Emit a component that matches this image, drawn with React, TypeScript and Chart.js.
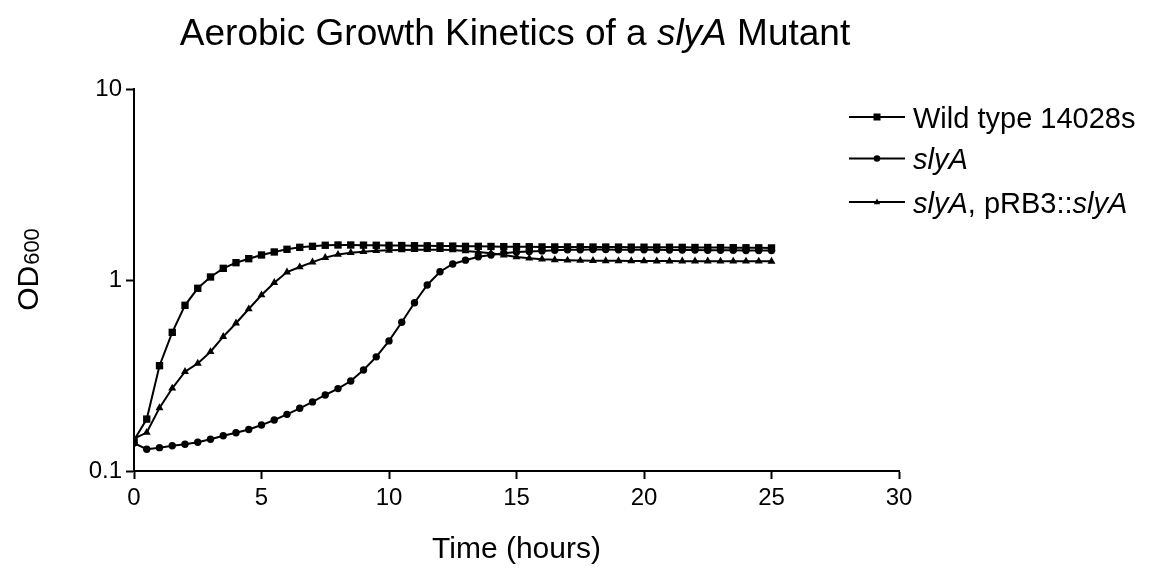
import React, { useEffect, useRef } from "react";
import { Chart, registerables } from "chart.js";

Chart.register(...registerables);

const FONT = "'Liberation Sans', Arial, Helvetica, sans-serif";

const timeHours = [
  0, 0.5, 1, 1.5, 2, 2.5, 3, 3.5, 4, 4.5, 5, 5.5, 6, 6.5, 7, 7.5, 8, 8.5, 9, 9.5,
  10, 10.5, 11, 11.5, 12, 12.5, 13, 13.5, 14, 14.5, 15, 15.5, 16, 16.5, 17, 17.5,
  18, 18.5, 19, 19.5, 20, 20.5, 21, 21.5, 22, 22.5, 23, 23.5, 24, 24.5, 25,
];

const wildType = [
  0.145, 0.187, 0.356, 0.532, 0.737, 0.905, 1.037, 1.151, 1.232, 1.293, 1.352,
  1.402, 1.448, 1.483, 1.501, 1.52, 1.525, 1.525, 1.522, 1.52, 1.518, 1.515,
  1.512, 1.51, 1.508, 1.505, 1.5, 1.5, 1.498, 1.495, 1.495, 1.493, 1.49, 1.49,
  1.49, 1.49, 1.488, 1.488, 1.487, 1.486, 1.485, 1.485, 1.484, 1.482, 1.48,
  1.48, 1.478, 1.476, 1.475, 1.474, 1.472,
];

const slyAMutant = [
  0.14, 0.13, 0.1325, 0.1357, 0.138, 0.1413, 0.1466, 0.153, 0.1587, 0.165, 0.174,
  0.185, 0.198, 0.213, 0.23, 0.25, 0.27, 0.296, 0.338, 0.396, 0.48, 0.601, 0.76,
  0.942, 1.105, 1.213, 1.27, 1.324, 1.352, 1.38, 1.4, 1.41, 1.42, 1.43, 1.44,
  1.44, 1.445, 1.445, 1.44, 1.44, 1.44, 1.438, 1.436, 1.435, 1.434, 1.432, 1.43,
  1.43, 1.428, 1.426, 1.425,
];

const complemented = [
  0.148, 0.159, 0.214, 0.271, 0.331, 0.366, 0.421, 0.505, 0.594, 0.705, 0.834,
  0.968, 1.1, 1.17, 1.24, 1.31, 1.36, 1.39, 1.406, 1.423, 1.43, 1.436, 1.44, 1.44,
  1.44, 1.435, 1.42, 1.4, 1.38, 1.35, 1.32, 1.3, 1.285, 1.275, 1.268, 1.265,
  1.262, 1.26, 1.26, 1.258, 1.258, 1.256, 1.256, 1.255, 1.255, 1.255, 1.254,
  1.254, 1.253, 1.253, 1.252,
];

const yTicks = [0.1, 1, 10];

type Seg = { t: string; i: boolean };
const titleSegs: Seg[] = [
  { t: "Aerobic Growth Kinetics of a ", i: false },
  { t: "slyA", i: true },
  { t: " Mutant", i: false },
];
const legendRows: { segs: Seg[]; style: string }[] = [
  { segs: [{ t: "Wild type 14028s", i: false }], style: "rect" },
  { segs: [{ t: "slyA", i: true }], style: "circle" },
  {
    segs: [
      { t: "slyA", i: true },
      { t: ", pRB3::", i: false },
      { t: "slyA", i: true },
    ],
    style: "triangle",
  },
];

function drawMarker(ctx: CanvasRenderingContext2D, style: string, x: number, y: number, s: number) {
  ctx.beginPath();
  if (style === "rect") {
    ctx.rect(x - s, y - s, 2 * s, 2 * s);
  } else if (style === "circle") {
    ctx.arc(x, y, s, 0, Math.PI * 2);
  } else {
    ctx.moveTo(x, y - s * 1.1);
    ctx.lineTo(x + s, y + s * 0.7);
    ctx.lineTo(x - s, y + s * 0.7);
    ctx.closePath();
  }
  ctx.fill();
}

function segsWidth(ctx: CanvasRenderingContext2D, segs: Seg[], size: number) {
  let w = 0;
  for (const s of segs) {
    ctx.font = `${s.i ? "italic " : ""}${size}px ${FONT}`;
    w += ctx.measureText(s.t).width;
  }
  return w;
}

function drawSegs(ctx: CanvasRenderingContext2D, segs: Seg[], size: number, x: number, y: number) {
  let cx = x;
  for (const s of segs) {
    ctx.font = `${s.i ? "italic " : ""}${size}px ${FONT}`;
    ctx.fillText(s.t, cx, y);
    cx += ctx.measureText(s.t).width;
  }
}

const textPlugin = {
  id: "textPlugin",
  afterDraw(chart: any) {
    const ctx: CanvasRenderingContext2D = chart.ctx;
    const area = chart.chartArea;
    ctx.save();
    ctx.fillStyle = "#000";
    ctx.strokeStyle = "#000";
    ctx.textAlign = "left";
    ctx.textBaseline = "alphabetic";

    // Title
    const tSize = 37;
    const tw = segsWidth(ctx, titleSegs, tSize);
    drawSegs(ctx, titleSegs, tSize, 515 - tw / 2, 45);

    // X axis title
    ctx.font = `30px ${FONT}`;
    ctx.textAlign = "center";
    ctx.fillText("Time (hours)", (area.left + area.right) / 2, 558);

    // Y axis title OD600
    ctx.save();
    ctx.translate(38, 270);
    ctx.rotate(-Math.PI / 2);
    ctx.textAlign = "left";
    ctx.font = `30px ${FONT}`;
    const odW = ctx.measureText("OD").width;
    ctx.font = `22px ${FONT}`;
    const subW = ctx.measureText("600").width;
    const start = -(odW + subW) / 2;
    ctx.font = `30px ${FONT}`;
    ctx.fillText("OD", start, 0);
    ctx.font = `22px ${FONT}`;
    ctx.fillText("600", start + odW + 1, 1);
    ctx.restore();

    // Legend
    const rowsY = [117, 158.5, 202];
    ctx.textAlign = "left";
    legendRows.forEach((row, k) => {
      const y = rowsY[k];
      ctx.lineWidth = 2;
      ctx.beginPath();
      ctx.moveTo(849, y);
      ctx.lineTo(905, y);
      ctx.stroke();
      drawMarker(ctx, row.style, 877, y, row.style === "rect" ? 3.5 : row.style === "circle" ? 3.3 : 3.2);
      drawSegs(ctx, row.segs, 29, 913, y + 10.5);
    });
    ctx.restore();
  },
};

function makeSet(label: string, values: number[], style: string, radius: number) {
  return {
    label,
    data: timeHours.map((t, i) => ({ x: t, y: values[i] })),
    borderColor: "#000",
    backgroundColor: "#000",
    borderWidth: 2,
    pointStyle: style,
    pointRadius: radius,
    pointBorderWidth: 0,
    pointBackgroundColor: "#000",
    tension: 0,
    fill: false,
  };
}

export default function App() {
  const ref = useRef<HTMLCanvasElement>(null);
  useEffect(() => {
    if (!ref.current) return;
    const tickFont = { family: FONT, size: 24 };
    const chart = new Chart(ref.current, {
      type: "line",
      data: {
        datasets: [
          makeSet("Wild type 14028s", wildType, "rect", 5.2),
          makeSet("slyA", slyAMutant, "circle", 3.7),
          makeSet("slyA, pRB3::slyA", complemented, "triangle", 4.6),
        ] as any,
      },
      options: {
        animation: false,
        responsive: false,
        devicePixelRatio: 1,
        layout: { padding: { top: 89, right: 268, left: 0, bottom: 0 } },
        plugins: {
          legend: { display: false },
          title: { display: false },
          tooltip: { enabled: false },
        },
        scales: {
          x: {
            type: "linear",
            min: 0,
            max: 30,
            ticks: { stepSize: 5, font: tickFont, color: "#000", padding: 5, maxRotation: 0 },
            grid: { drawOnChartArea: false, drawTicks: true, tickLength: 8, tickColor: "#000", tickWidth: 2 },
            border: { display: true, color: "#000", width: 2 },
            afterFit: (s: any) => {
              s.height = 103;
            },
          },
          y: {
            type: "logarithmic",
            min: 0.1,
            max: 10,
            afterBuildTicks: (s: any) => {
              s.ticks = yTicks.map((v) => ({ value: v }));
            },
            ticks: {
              font: tickFont,
              color: "#000",
              padding: 4,
              callback: (v: any) => String(v),
            },
            grid: { drawOnChartArea: false, drawTicks: true, tickLength: 8, tickColor: "#000", tickWidth: 2 },
            border: { display: true, color: "#000", width: 2 },
            afterFit: (s: any) => {
              s.width = 134;
            },
          },
        },
      } as any,
      plugins: [textPlugin],
    });
    return () => chart.destroy();
  }, []);
  return (
    <div style={{ position: "fixed", left: 0, top: 0, width: 1167, height: 574, background: "#fff" }}>
      <canvas ref={ref} width={1167} height={574} />
    </div>
  );
}
